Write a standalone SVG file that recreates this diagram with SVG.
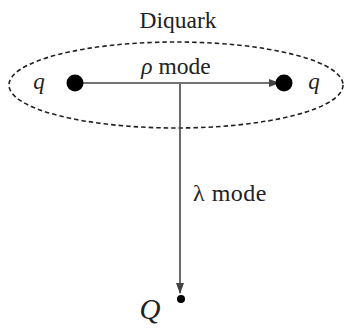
<svg xmlns="http://www.w3.org/2000/svg" width="348" height="328" viewBox="0 0 348 328">
<style>
.t{font-family:"Liberation Serif","DejaVu Serif",serif;fill:#222;}
.i{font-style:italic;}
.ln{stroke:#444;stroke-width:1.6;fill:none;}
</style>
<defs>
<marker id="ah" markerWidth="11" markerHeight="9" refX="10" refY="4.5" orient="auto" markerUnits="userSpaceOnUse">
<path d="M0,0.5 L11,4.5 L0,8.5 Z" fill="#444"/>
</marker>
</defs>
<rect width="348" height="328" fill="#fff"/>
<g id="diquark">
<ellipse cx="176" cy="85" rx="167" ry="43" fill="none" stroke="#222" stroke-width="1.6" stroke-dasharray="4.5,3"/>
<text class="t" x="178" y="28" font-size="23.5" text-anchor="middle">Diquark</text>
</g>
<g id="connectors">
<line class="ln" x1="75" y1="83" x2="279" y2="83" marker-end="url(#ah)"/>
<line class="ln" x1="180" y1="84" x2="180" y2="293" marker-end="url(#ah)"/>
</g>
<g id="q1">
<circle cx="75" cy="83" r="8.5" fill="#000"/>
<text class="t i" x="39" y="89" font-size="23" text-anchor="middle">q</text>
</g>
<g id="q2">
<circle cx="284" cy="83" r="8.5" fill="#000"/>
<text class="t i" x="314" y="89" font-size="23" text-anchor="middle">q</text>
</g>
<g id="Q">
<circle cx="181" cy="299" r="4" fill="#000"/>
<text class="t i" x="150" y="319" font-size="29" text-anchor="middle">Q</text>
</g>
<text class="t" x="176" y="74" font-size="23.5" text-anchor="middle"><tspan class="i">ρ</tspan> mode</text>
<text class="t" x="193" y="201" font-size="24" letter-spacing="0.5">λ mode</text>
</svg>
